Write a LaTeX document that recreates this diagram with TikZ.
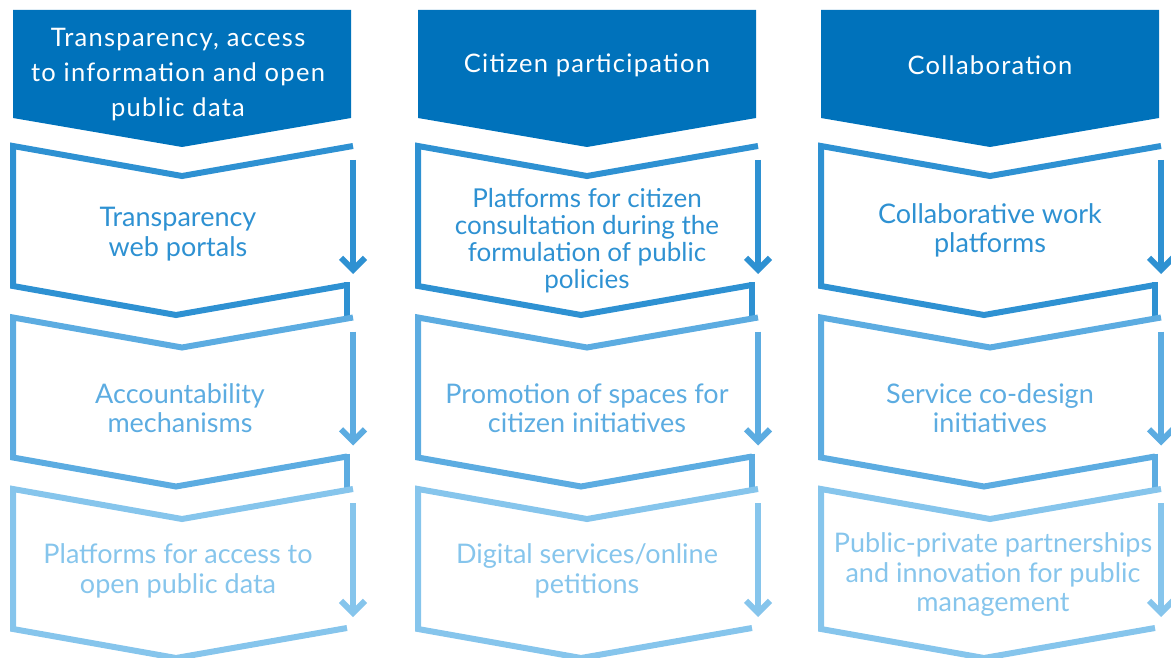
\documentclass[tikz,border=0pt]{standalone}
\usepackage{fontspec}
\setmainfont{Lato}
\usetikzlibrary{arrows.meta}
\definecolor{hdrblue}{RGB}{0,114,187}
\definecolor{rowA}{RGB}{46,145,210}
\definecolor{rowB}{RGB}{92,172,225}
\definecolor{rowC}{RGB}{134,197,236}

\begin{document}
\begin{tikzpicture}[x=1pt, y=-1pt, line join=miter, every text node part/.style={align=center},
    head/.style={font=\fontsize{25.5}{35}\selectfont\addfontfeatures{LetterSpace=5}, text=white},
    item/.style={font=\fontsize{27}{29.5}\selectfont},
    flow/.style={line width=6pt, -{Straight Barb[length=12pt, width=24pt]}}]
    \useasboundingbox (0, 0) rectangle (1171, 658);
    \foreach \l in {13, 418, 821}
    \fill[hdrblue] (\l, 10) -- (\l+338, 10) -- (\l+338, 118) -- (\l+169, 147) -- (\l, 118) -- cycle;
    \foreach \l in {13, 418, 821} {
      \foreach \k/\c in {0/rowA, 1/rowB, 2/rowC} {
        \pgfmathsetmacro{\t}{146+171.5*\k}
        \draw[\c, line width=6pt] (\l+340, \t) -- (\l+169, \t+30) -- (\l, \t) -- (\l, \t+140) -- (\l+163, \t+169) -- (\l+334, \t+139);
        \ifnum\k<2 \draw[\c, line width=6pt] (\l+334, \t+136) -- (\l+334, \t+173); \fi
        \coordinate (s\l\k) at (\l+340, \t+14);
        \coordinate (e\l\k) at (\l+340, \t+128);
        \draw[\c, flow] (s\l\k) -- (e\l\k);
      }
    }
    \node (h1) [head] at (178, 75) {Transparency, access\\to information and open\\public data};
    \node (h2) [head] at (587, 65) {Citizen participation};
    \node (h3) [head] at (990, 65) {Collaboration};
    \node (a1) [item, text=rowA] at (178, 234) {Transparency\\web portals};
    \node (a2) [item, text=rowB] at (180, 408) {Accountability\\mechanisms};
    \node (a3) [item, text=rowC] at (178, 571) {Platforms for access to\\open public data};
    \node (b1) [item, text=rowA, font=\fontsize{26}{27}\selectfont] at (587, 240.5) {Platforms for citizen\\consultation during the\\formulation of public\\policies};
    \node (b2) [item, text=rowB] at (587, 408) {Promotion of spaces for\\citizen initiatives};
    \node (b3) [item, text=rowC] at (587, 571) {Digital services/online\\petitions};
    \node (c1) [item, text=rowA] at (990, 230.5) {Collaborative work\\platforms};
    \node (c2) [item, text=rowB] at (990, 408) {Service co-design\\initiatives};
    \node (c3) [item, text=rowC] at (993, 575) {Public-private partnerships\\and innovation for public\\management};
  \end{tikzpicture}
\end{document}
